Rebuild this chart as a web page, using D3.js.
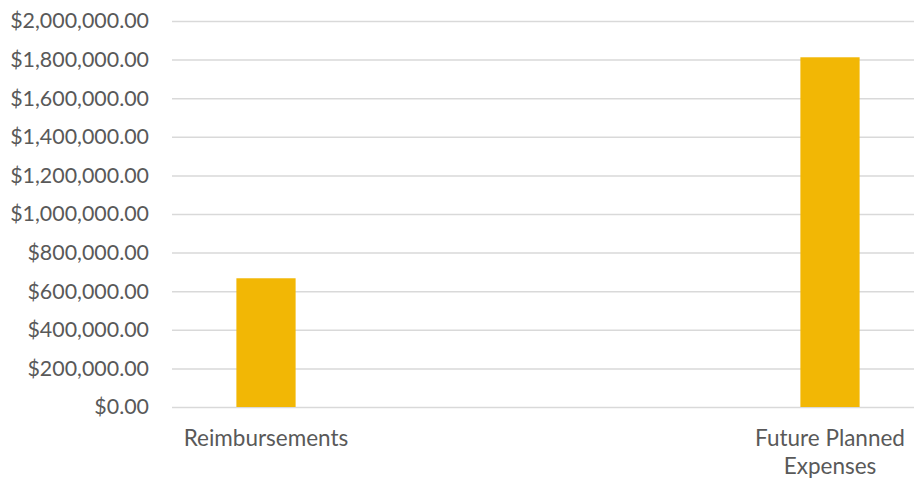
<!DOCTYPE html>
<html>
<head>
<meta charset="utf-8">
<script src="https://cdn.jsdelivr.net/npm/d3@7"></script>
<style>
  html, body { margin: 0; padding: 0; background: #fff; }
  svg { display: block; font-family: Lato, "Open Sans", sans-serif; }
</style>
</head>
<body>
<svg id="chart"></svg>
<script>
// Data
const categories = ['Reimbursements', 'Future Planned Expenses']
const amounts = [667000, 1812000]
const yTicks = [0, 200000, 400000, 600000, 800000, 1000000, 1200000, 1400000, 1600000, 1800000, 2000000]

// Measurements
const fullWidth = 914
const fullHeight = 481
const margin = { top: 21, right: -10, bottom: 74, left: 172 }
const width = fullWidth - margin.left - margin.right
const height = fullHeight - margin.top - margin.bottom

const textColor = '#595959'
const gridColor = '#d9d9d9'
const barColor = '#f2b705'

const svg = d3.select('#chart')
    .attr('width', fullWidth)
    .attr('height', fullHeight)

const g = svg.append('g')
    .attr('transform', `translate(${margin.left}, ${margin.top})`)

// Scales
const xScale = d3.scalePoint()
    .domain(categories)
    .range([0, width])
    .padding(1 / 6)

const yScale = d3.scaleLinear()
    .domain([0, 2000000])
    .range([height, 0])

const barWidth = xScale.step() * 0.105

// Gridlines + y labels
const yAxis = d3.axisLeft(yScale)
    .tickValues(yTicks)
    .tickFormat(d3.format('$,.2f'))
    .tickSize(-width)
    .tickPadding(23)

const yg = g.append('g')
    .attr('class', 'y-axis')
    .call(yAxis)
    .attr('font-family', null)
    .attr('font-size', null)

yg.select('.domain').remove()
yg.selectAll('.tick line')
    .attr('stroke', gridColor)
    .attr('stroke-width', 1.5)
yg.selectAll('.tick text')
    .attr('fill', textColor)
    .style('font-size', '21.4px')

// Bars
g.selectAll('.bar')
    .data(amounts)
    .enter()
    .append('rect')
        .attr('class', 'bar')
        .attr('x', (d, i) => xScale(categories[i]) - barWidth / 2)
        .attr('y', d => yScale(d))
        .attr('width', barWidth)
        .attr('height', d => yScale(0) - yScale(d))
        .attr('fill', barColor)

// Category labels, wrapped like the original
const labels = g.selectAll('.cat-label')
    .data(categories)
    .enter()
    .append('text')
        .attr('class', 'cat-label')
        .attr('x', d => xScale(d))
        .attr('y', height + 39)
        .attr('text-anchor', 'middle')
        .attr('fill', textColor)
        .style('font-size', '22.5px')

labels.each(function (d) {
    const text = d3.select(this)
    const words = d.split(' ')
    const x = xScale(d)
    let line = []
    let tspan = text.append('tspan').attr('x', x).attr('dy', 0)
    words.forEach(word => {
        line.push(word)
        tspan.text(line.join(' '))
        if (tspan.node().getComputedTextLength() > 200 && line.length > 1) {
            line.pop()
            tspan.text(line.join(' '))
            line = [word]
            tspan = text.append('tspan').attr('x', x).attr('dy', 28).text(word)
        }
    })
})
</script>
</body>
</html>
